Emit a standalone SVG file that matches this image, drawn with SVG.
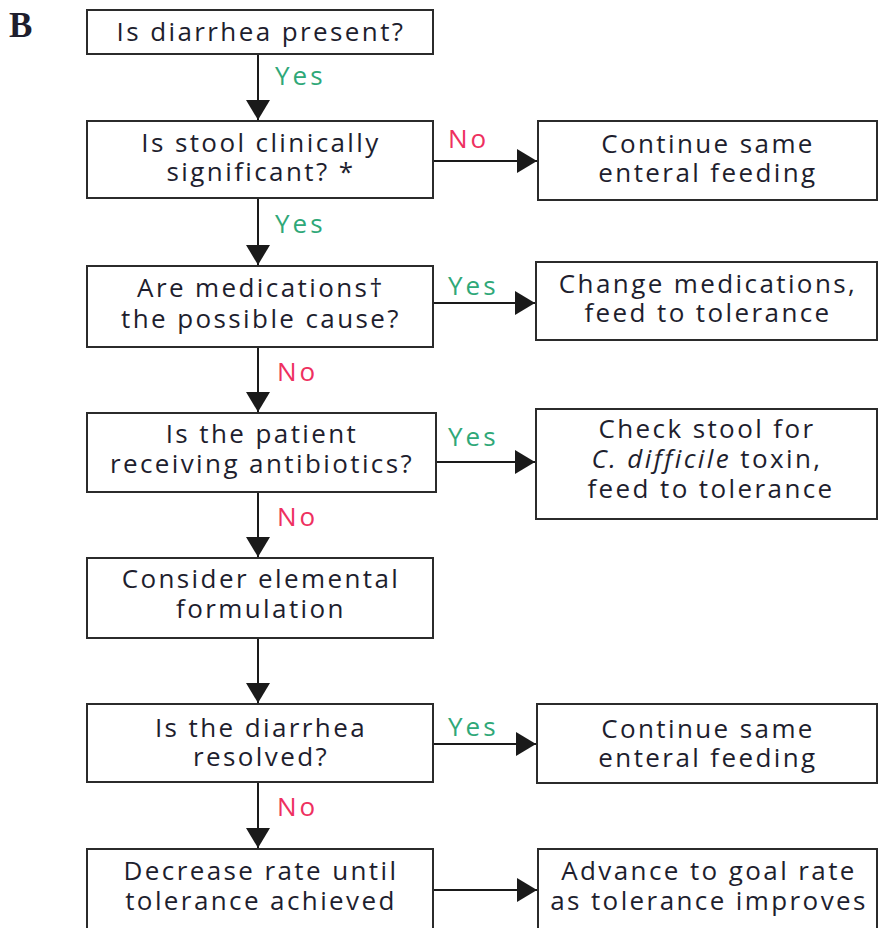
<svg xmlns="http://www.w3.org/2000/svg" width="879" height="928" viewBox="0 0 879 928">
<style>
.box{fill:#fff;stroke:#2b2b2b;stroke-width:2}
.t{font-family:"Open Sans","Noto Sans",sans-serif;font-size:26px;letter-spacing:2.4px;fill:#1e1e2e;text-anchor:middle}
.y{font-family:"Open Sans","Noto Sans",sans-serif;font-size:26px;letter-spacing:3px;fill:#2fa878}
.n{font-family:"Open Sans","Noto Sans",sans-serif;font-size:26px;letter-spacing:3px;fill:#ee3060}
.c{stroke:#1a1a1a;stroke-width:2;fill:none;marker-end:url(#ah)}
</style>
<defs>
<marker id="ah" markerUnits="userSpaceOnUse" markerWidth="24" markerHeight="24" viewBox="0 0 20 24" refX="20" refY="12" orient="auto">
<path d="M0,0 L20,12 L0,24 Z" fill="#1a1a1a"/>
</marker>
</defs>
<rect width="879" height="928" fill="#fff"/>
<text x="9" y="37" font-family="Liberation Serif,serif" font-weight="bold" font-size="35" fill="#1e1e2e">B</text>
<g id="connectors">
<line class="c" x1="258" y1="54" x2="258" y2="120"/>
<line class="c" x1="258" y1="198" x2="258" y2="265"/>
<line class="c" x1="258" y1="347" x2="258" y2="412"/>
<line class="c" x1="258" y1="492" x2="258" y2="557"/>
<line class="c" x1="258" y1="638" x2="258" y2="703"/>
<line class="c" x1="258" y1="782" x2="258" y2="848"/>
<line class="c" x1="433" y1="161" x2="537" y2="161"/>
<line class="c" x1="433" y1="303" x2="535" y2="303"/>
<line class="c" x1="436" y1="462" x2="535" y2="462"/>
<line class="c" x1="433" y1="744" x2="536" y2="744"/>
<line class="c" x1="433" y1="890" x2="537" y2="890"/>
<text class="y" x="275" y="85">Yes</text>
<text class="y" x="275" y="233">Yes</text>
<text class="n" x="277" y="381">No</text>
<text class="n" x="277" y="526">No</text>
<text class="n" x="277" y="816">No</text>
<text class="n" x="448" y="148">No</text>
<text class="y" x="448" y="295">Yes</text>
<text class="y" x="448" y="446">Yes</text>
<text class="y" x="448" y="736">Yes</text>
</g>
<g id="n1"><rect class="box" x="87" y="10" width="346" height="44"/><text class="t" x="261" y="41">Is diarrhea present?</text></g>
<g id="n2"><rect class="box" x="87" y="121" width="346" height="77"/><text class="t" x="261" y="152">Is stool clinically</text><text class="t" x="261" y="181">significant? *</text></g>
<g id="n3"><rect class="box" x="87" y="266" width="346" height="81"/><text class="t" x="261" y="297">Are medications†</text><text class="t" x="261" y="328">the possible cause?</text></g>
<g id="n4"><rect class="box" x="87" y="413" width="349" height="79"/><text class="t" x="262" y="443">Is the patient</text><text class="t" x="262" y="473">receiving antibiotics?</text></g>
<g id="n5"><rect class="box" x="87" y="558" width="346" height="80"/><text class="t" x="261" y="588">Consider elemental</text><text class="t" x="261" y="618">formulation</text></g>
<g id="n6"><rect class="box" x="87" y="704" width="346" height="78"/><text class="t" x="261" y="737">Is the diarrhea</text><text class="t" x="261" y="766">resolved?</text></g>
<g id="n7"><rect class="box" x="87" y="849" width="346" height="90"/><text class="t" x="261" y="880">Decrease rate until</text><text class="t" x="261" y="910">tolerance achieved</text></g>
<g id="r1"><rect class="box" x="538" y="121" width="339" height="79"/><text class="t" x="708" y="153">Continue same</text><text class="t" x="708" y="182">enteral feeding</text></g>
<g id="r2"><rect class="box" x="536" y="262" width="341" height="78"/><text class="t" x="708" y="293">Change medications,</text><text class="t" x="708" y="322">feed to tolerance</text></g>
<g id="r3"><rect class="box" x="536" y="409" width="341" height="110"/><text class="t" x="707" y="438">Check stool for</text><text class="t" x="707" y="468"><tspan font-style="italic">C. difficile</tspan> toxin,</text><text class="t" x="711" y="498">feed to tolerance</text></g>
<g id="r4"><rect class="box" x="537" y="704" width="340" height="79"/><text class="t" x="708" y="738">Continue same</text><text class="t" x="708" y="767">enteral feeding</text></g>
<g id="r5"><rect class="box" x="538" y="849" width="339" height="90"/><text class="t" x="709" y="880">Advance to goal rate</text><text class="t" x="709" y="910">as tolerance improves</text></g>
</svg>
